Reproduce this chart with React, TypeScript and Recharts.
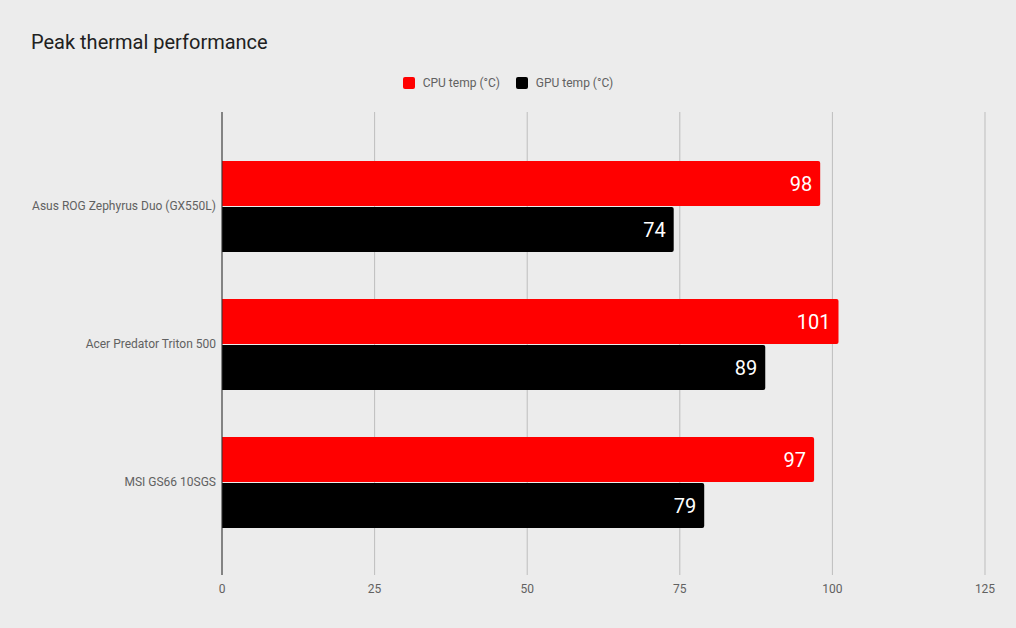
import { BarChart, Bar, XAxis, YAxis, CartesianGrid, LabelList } from 'recharts';

const laptops = ['Asus ROG Zephyrus Duo (GX550L)', 'Acer Predator Triton 500', 'MSI GS66 10SGS'];
const cpuTemps = [98, 101, 97];
const gpuTemps = [74, 89, 79];
const xTicks = [0, 25, 50, 75, 100, 125];

const data = laptops.map((name, i) => ({ name, cpu: cpuTemps[i], gpu: gpuTemps[i] }));

const FONT = 'Roboto, sans-serif';

const legendItems = [
  { label: 'CPU temp (°C)', color: '#ff0000' },
  { label: 'GPU temp (°C)', color: '#000000' },
];

function CategoryTick(props: any) {
  const { x, y, payload } = props;
  return (
    <text x={x} y={y} dy={4} textAnchor="end" fill="#616161" fontSize={12} fontFamily={FONT}>
      {payload.value}
    </text>
  );
}

export default function App() {
  return (
    <div style={{ position: 'absolute', left: 0, top: 0, width: 1016, height: 628, background: '#ececec' }}>
      <div style={{ position: 'absolute', left: 31, top: 30, fontFamily: FONT, fontSize: 20, color: '#212121' }}>
        Peak thermal performance
      </div>
      <div
        style={{
          position: 'absolute', left: 0, top: 76, width: 1016, display: 'flex', justifyContent: 'center',
          gap: 16, fontFamily: FONT, fontSize: 12, color: '#616161',
        }}
      >
        {legendItems.map((it) => (
          <div key={it.label} style={{ display: 'flex', alignItems: 'center' }}>
            <span style={{ width: 12, height: 12, borderRadius: 2, background: it.color, marginRight: 8, display: 'inline-block' }} />
            {it.label}
          </div>
        ))}
      </div>
      <BarChart
        width={1016}
        height={628}
        data={data}
        layout="vertical"
        margin={{ top: 112, right: 31, bottom: 0, left: 0 }}
        barCategoryGap={24}
        barGap={1}
        style={{ position: 'absolute', left: 0, top: 0 }}
      >
        <CartesianGrid horizontal={false} stroke="#bdbdbd" />
        <XAxis
          type="number"
          domain={[0, 125]}
          ticks={xTicks}
          axisLine={false}
          tickLine={false}
          tickSize={0}
          tickMargin={9}
          height={53}
          tick={{ fill: '#616161', fontSize: 12, fontFamily: FONT }}
        />
        <YAxis
          type="category"
          dataKey="name"
          width={222}
          padding={{ top: 25, bottom: 24 }}
          axisLine={{ stroke: '#333333' }}
          tickLine={false}
          tickSize={0}
          tickMargin={6}
          tick={<CategoryTick />}
        />
        <Bar dataKey="cpu" name="CPU temp (°C)" fill="#ff0000" radius={[0, 2, 2, 0]} isAnimationActive={false}>
          <LabelList dataKey="cpu" position="insideRight" offset={8} fill="#ffffff" fontSize={20} fontFamily={FONT} />
        </Bar>
        <Bar dataKey="gpu" name="GPU temp (°C)" fill="#000000" radius={[0, 2, 2, 0]} isAnimationActive={false}>
          <LabelList dataKey="gpu" position="insideRight" offset={8} fill="#ffffff" fontSize={20} fontFamily={FONT} />
        </Bar>
      </BarChart>
    </div>
  );
}
